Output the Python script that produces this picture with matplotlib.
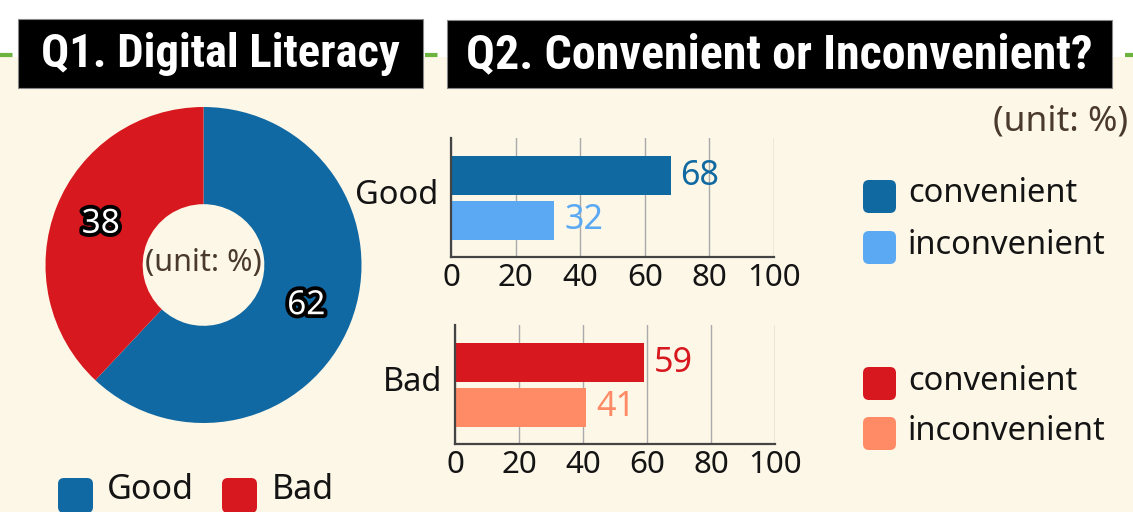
import matplotlib
matplotlib.use("Agg")
import matplotlib.pyplot as plt
from matplotlib import font_manager
from matplotlib.patches import Rectangle, FancyBboxPatch
import matplotlib.patheffects as pe

# ---------------- data ----------------
pie_labels = ["Good", "Bad"]
pie_values = [62, 38]
group_names = ["Good", "Bad"]
series_names = ["convenient", "inconvenient"]
good_values = [68, 32]
bad_values = [59, 41]
x_ticks = [0, 20, 40, 60, 80, 100]
title_q1 = "Q1. Digital Literacy"
title_q2 = "Q2. Convenient or Inconvenient?"
unit_text = "(unit: %)"

# ---------------- styles ----------------
PIE_COLORS = ["#1169A3", "#D7191F"]
GOOD_COLORS = ["#1069A1", "#5AA9F2"]
BAD_COLORS = ["#D7181F", "#FF8A66"]
BG = "#FDF7E8"
BROWN = "#4A3A2E"
TXT = "#141414"

avail = {f.name for f in font_manager.fontManager.ttflist}
def pick(cands, default="DejaVu Sans"):
    for c in cands:
        if c in avail:
            return c
    return default

BODY = pick(["Noto Sans CJK KR", "Noto Sans", "Open Sans"])
TITLE = pick(["Roboto Condensed", "Liberation Sans Narrow", "Open Sans Condensed",
              "Noto Sans Condensed", "Noto Sans CJK KR"])
plt.rcParams["font.family"] = [BODY, "DejaVu Sans"]

W, H = 1133, 512
fig = plt.figure(figsize=(W / 100, H / 100), dpi=100)
fig.patch.set_facecolor("white")

# overlay axes in pixel coordinates for decorations
deco = fig.add_axes([0, 0, 1, 1], zorder=0)
deco.set_xlim(0, W)
deco.set_ylim(H, 0)
deco.axis("off")
deco.add_patch(Rectangle((0, 57), W, H - 57, facecolor=BG, edgecolor="none"))
deco.plot([0, W], [55, 55], color="#6DB33F", lw=3, ls=(0, (3, 3)), zorder=1)

def title_box(x0, x1, y0, y1, text, text_w):
    deco.add_patch(Rectangle((x0, y0), x1 - x0, y1 - y0, facecolor="black",
                             edgecolor="#888888", lw=0.8, zorder=2))
    t = deco.text((x0 + x1) / 2, (y0 + y1) / 2 + 1, text, color="white",
                  ha="center", va="center", fontsize=30, fontweight="bold",
                  family=[TITLE, "DejaVu Sans"], zorder=3)
    return t, text_w

titles = [title_box(18, 423, 19, 88, title_q1, 360),
          title_box(447, 1112, 20, 88, title_q2, 626)]

fig.canvas.draw()
r = fig.canvas.get_renderer()
for t, tw in titles:
    w = t.get_window_extent(r).width
    t.set_fontsize(t.get_fontsize() * tw / w)

# ---------------- donut ----------------
cx, cy, rad = 203.5, 265, 158
pax = fig.add_axes([(cx - rad) / W, 1 - (cy + rad) / H, 2 * rad / W, 2 * rad / H], zorder=2)
wedges, _, autotexts = pax.pie(pie_values, colors=PIE_COLORS, startangle=90, counterclock=False,
                               radius=1, wedgeprops=dict(width=0.615, edgecolor="none"),
                               autopct=lambda p: f"{p:.0f}", pctdistance=0.70)
for at in autotexts:
    at.set_color("white")
    at.set_fontsize(24)
    at.set_fontweight("medium")
    at.set_path_effects([pe.withStroke(linewidth=5.5, foreground="black")])
pax.set_xlim(-1, 1)
pax.set_ylim(-1, 1)
pax.set_aspect("equal")
pax.axis("off")
pax.text(0, 0.01, unit_text, ha="center", va="center", fontsize=22, color=BROWN)

# ---------------- bars ----------------
def bar_panel(x0, x1, y0, y1, values, colors, group):
    ax = fig.add_axes([x0 / W, 1 - y1 / H, (x1 - x0) / W, (y1 - y0) / H], zorder=2)
    ax.set_facecolor("none")
    pos = list(range(len(values)))
    ax.barh(pos, values, height=0.876, color=colors, zorder=3)
    ax.set_xlim(0, 100)
    ax.set_ylim(1.83, -0.843)
    ax.set_xticks(x_ticks)
    ax.set_xticklabels([str(v) for v in x_ticks])
    ax.set_yticks([0.36])
    ax.set_yticklabels([group])
    ax.tick_params(axis="x", length=0, pad=4, labelsize=22.5, labelcolor=TXT)
    ax.tick_params(axis="y", length=0, pad=9, labelsize=23.5, labelcolor=TXT)
    ax.grid(axis="x", color="#AAAAAA", lw=1.0, zorder=0)
    for s in ["top", "right"]:
        ax.spines[s].set_visible(False)
    for s in ["left", "bottom"]:
        ax.spines[s].set_color("#444444")
        ax.spines[s].set_linewidth(1.6)
        ax.spines[s].set_zorder(4)
    for p, v, c in zip(pos, values, colors):
        ax.annotate(str(v), (v, p), xytext=(7, 0), textcoords="offset points",
                    ha="left", va="center", fontsize=24.5, color=c)
    return ax

bar_panel(451, 774, 138, 257, good_values, GOOD_COLORS, group_names[0])
bar_panel(455, 775, 325, 444, bad_values, BAD_COLORS, group_names[1])

# ---------------- legends ----------------
def square(x, y, s, color):
    deco.add_patch(FancyBboxPatch((x, y), s, s, boxstyle="round,pad=0,rounding_size=6",
                                  facecolor=color, edgecolor="none", zorder=2))

# right legend
leg_rows = [(180, GOOD_COLORS[0], series_names[0]), (231, GOOD_COLORS[1], series_names[1]),
            (367, BAD_COLORS[0], series_names[0]), (417, BAD_COLORS[1], series_names[1])]
for y, c, name in leg_rows:
    square(863, y, 33, c)
    deco.text(908, y + 14, name, ha="left", va="center", fontsize=23.5, color=TXT)

deco.text(1128, 122, unit_text, ha="right", va="center", fontsize=25.5, color=BROWN)

# bottom donut legend
square(58, 478, 35, PIE_COLORS[0])
deco.text(107, 490, pie_labels[0], ha="left", va="center", fontsize=24.5, color=TXT)
square(222, 478, 35, PIE_COLORS[1])
deco.text(272, 490, pie_labels[1], ha="left", va="center", fontsize=24.5, color=TXT)

fig.savefig("out.png", dpi=100, facecolor=fig.get_facecolor())
